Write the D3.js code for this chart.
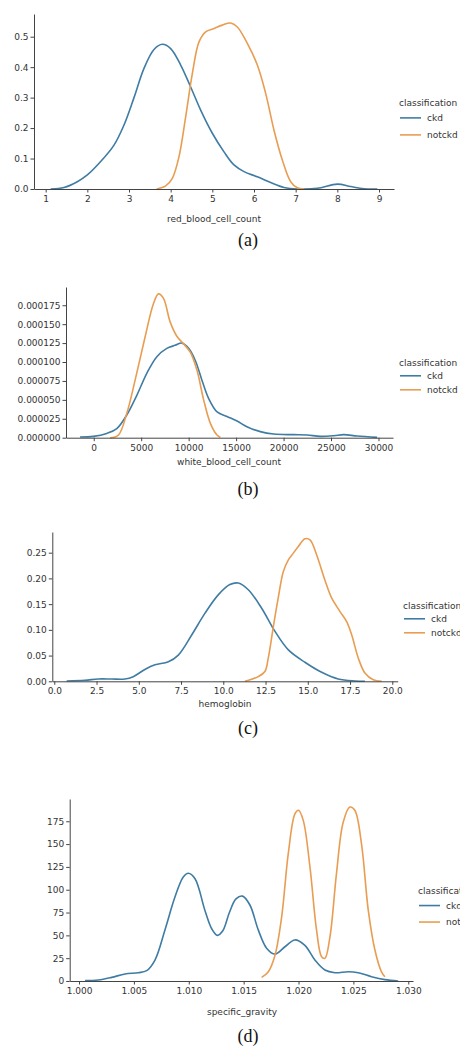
<!DOCTYPE html>
<html>
<head>
<meta charset="utf-8">
<script src="https://cdn.jsdelivr.net/npm/d3@7"></script>
<style>
  body { margin: 0; background: #fff; }
  svg { display: block; }
  .tick text { font-family: "DejaVu Sans", sans-serif; font-size: 9px; fill: #333; }
  .lbl { font-family: "DejaVu Sans", sans-serif; font-size: 9px; fill: #333; }
  .cap { font-family: "Liberation Serif", "Times New Roman", serif; font-size: 18px; fill: #111; }
</style>
</head>
<body>
<script>
// series: [x, density]
const classes = ['ckd', 'notckd'];
const colors = ['#3f7ca3', '#e89d52'];

const rbcCkd = [[1.12,0],[1.44,0.005],[1.76,0.024],[2.0,0.046],[2.32,0.09],[2.64,0.144],[2.88,0.21],[3.12,0.30],[3.36,0.396],[3.6,0.458],[3.8,0.475],[4.0,0.461],[4.24,0.407],[4.48,0.335],[4.72,0.259],[5.0,0.183],[5.28,0.122],[5.52,0.079],[5.76,0.057],[6.08,0.040],[6.4,0.021],[6.72,0.005],[7.04,0.0],[7.52,0.002],[8.0,0.016],[8.32,0.008],[8.64,0.001],[8.96,0]];
const rbcNot = [[3.66,0],[3.88,0.01],[4.04,0.035],[4.2,0.106],[4.36,0.237],[4.52,0.379],[4.68,0.483],[4.84,0.516],[5.04,0.527],[5.24,0.538],[5.44,0.545],[5.6,0.532],[5.84,0.478],[6.08,0.407],[6.28,0.314],[6.48,0.193],[6.68,0.095],[6.88,0.024],[7.04,0.004],[7.2,0]];

const wbcCkd = [[-1440,0.9e-6],[-35,1.8e-6],[1370,5.7e-6],[2430,12e-6],[3480,30e-6],[4540,56e-6],[5590,85e-6],[6650,107e-6],[7700,118e-6],[8580,122e-6],[9290,125e-6],[10000,118e-6],[10700,102e-6],[11400,76e-6],[12100,52e-6],[13000,34e-6],[14040,28e-6],[15100,22e-6],[16140,14.5e-6],[17550,8e-6],[18960,4.8e-6],[21070,4e-6],[22480,3.5e-6],[23880,1.8e-6],[25290,2.6e-6],[26340,4e-6],[27750,2.2e-6],[29860,0.4e-6]];
const wbcNot = [[1720,0],[2600,3.5e-6],[3480,32e-6],[4360,76e-6],[5410,133e-6],[6290,177e-6],[6820,190e-6],[7350,184e-6],[8050,153e-6],[8760,134e-6],[9460,124e-6],[10170,113e-6],[10880,89e-6],[11580,50e-6],[12290,19e-6],[12990,3.5e-6],[13340,0.4e-6]];

const hemoCkd = [[0.73,0.0006],[1.81,0.002],[2.6,0.0045],[3.39,0.0045],[4.18,0.0045],[4.67,0.009],[5.36,0.023],[5.96,0.032],[6.75,0.038],[7.34,0.051],[8.13,0.09],[8.91,0.132],[9.7,0.168],[10.39,0.188],[10.89,0.191],[11.48,0.178],[12.27,0.142],[13.06,0.097],[13.85,0.061],[14.83,0.037],[15.82,0.0175],[16.8,0.0045],[17.79,0.0006],[18.38,0]];
const hemoNot = [[11.28,0],[12.07,0.009],[12.46,0.019],[12.66,0.045],[12.96,0.106],[13.25,0.162],[13.55,0.213],[13.85,0.236],[14.05,0.245],[14.44,0.262],[14.83,0.277],[15.13,0.275],[15.52,0.246],[16.01,0.197],[16.41,0.162],[16.9,0.136],[17.3,0.116],[17.6,0.09],[17.99,0.045],[18.38,0.016],[18.87,0.003],[19.37,0]];

const sgCkd = [[1.00055,0.4],[1.00176,1.1],[1.00298,4],[1.00419,7.7],[1.0054,9.1],[1.00616,11.3],[1.00692,23],[1.00783,56],[1.00874,92],[1.0095,114],[1.00996,118],[1.01057,112],[1.01148,77],[1.0121,57],[1.0126,50],[1.0131,55],[1.0137,75],[1.0143,90],[1.0149,93],[1.01558,83],[1.01633,56],[1.01709,36],[1.01785,29.5],[1.01876,37.5],[1.01967,45],[1.02058,39],[1.02149,23],[1.0224,12],[1.02331,9.1],[1.02453,10.2],[1.02544,9.1],[1.02665,4.7],[1.02787,1.5],[1.02908,0]];
const sgNot = [[1.01664,4],[1.01725,10.2],[1.01785,28],[1.01846,70],[1.01907,140],[1.01967,183],[1.02,187],[1.02043,176],[1.02104,125],[1.02164,56],[1.0221,26.6],[1.0224,24.8],[1.02286,48],[1.02346,118],[1.02407,174],[1.02468,190.6],[1.02513,187],[1.02574,150],[1.02635,78],[1.02696,34],[1.02756,10],[1.02787,4.7]];

// tick values
const rbcXTicks = [1, 2, 3, 4, 5, 6, 7, 8, 9];
const rbcYTicks = [0, 0.1, 0.2, 0.3, 0.4, 0.5];
const wbcXTicks = [0, 5000, 10000, 15000, 20000, 25000, 30000];
const wbcYTicks = [0, 0.000025, 0.00005, 0.000075, 0.0001, 0.000125, 0.00015, 0.000175];
const hemoXTicks = [0, 2.5, 5, 7.5, 10, 12.5, 15, 17.5, 20];
const hemoYTicks = [0, 0.05, 0.1, 0.15, 0.2, 0.25];
const sgXTicks = [1.000, 1.005, 1.010, 1.015, 1.020, 1.025, 1.030];
const sgYTicks = [0, 25, 50, 75, 100, 125, 150, 175];

const svg = d3.select('body').append('svg')
  .attr('width', 460)
  .attr('height', 1050);

const panels = [
  { series: [rbcCkd, rbcNot], xd: [0.72, 9.36], yd: [0, 0.5745], box: [34, 394, 14, 189],
    xt: rbcXTicks, yt: rbcYTicks, xf: d3.format('d'), yf: d3.format('.1f'),
    label: 'red_blood_cell_count', lx: 214, ly: 222, cap: '(a)', cy: 246, leg: [399, 106, 17] },
  { series: [wbcCkd, wbcNot], xd: [-2921, 31529], yd: [0, 0.0001991], box: [66, 393, 287, 437.7],
    xt: wbcXTicks, yt: wbcYTicks, xf: d3.format('d'), yf: d3.format('.6f'),
    label: 'white_blood_cell_count', lx: 229, ly: 465, cap: '(b)', cy: 495, leg: [399, 366, 14] },
  { series: [hemoCkd, hemoNot], xd: [-0.118, 20.32], yd: [0, 0.2902], box: [52.3, 397.7, 532, 681.3],
    xt: hemoXTicks, yt: hemoYTicks, xf: d3.format('.1f'), yf: d3.format('.2f'),
    label: 'hemoglobin', lx: 225, ly: 707, cap: '(c)', cy: 734, leg: [403, 609, 14] },
  { series: [sgCkd, sgNot], xd: [0.99915, 1.03043], yd: [0, 199.4], box: [69.7, 413, 799, 981],
    xt: sgXTicks, yt: sgYTicks, xf: d3.format('.3f'), yf: d3.format('d'),
    label: 'specific_gravity', lx: 242, ly: 1015, cap: '(d)', cy: 1042, leg: [418, 894, 16.5] }
];

panels.forEach(p => {
  const [x0, x1, y0, y1] = p.box;
  const x = d3.scaleLinear().domain(p.xd).range([x0, x1]);
  const y = d3.scaleLinear().domain(p.yd).range([y1, y0]);
  const g = svg.append('g');

  const line = d3.line()
    .x(d => x(d[0]))
    .y(d => Math.min(y1, y(d[1])))
    .curve(d3.curveCatmullRom.alpha(0.5));

  g.selectAll('path.kde')
    .data(p.series)
    .enter()
    .append('path')
      .attr('class', 'kde')
      .attr('d', line)
      .attr('fill', 'none')
      .attr('stroke', (_, i) => colors[i])
      .attr('stroke-width', 1.6)
      .attr('stroke-linejoin', 'round');

  const xAxis = g.append('g')
    .attr('transform', `translate(0,${y1})`)
    .call(d3.axisBottom(x).tickValues(p.xt).tickFormat(p.xf).tickSizeInner(3.5).tickSizeOuter(0).tickPadding(3));
  const yAxis = g.append('g')
    .attr('transform', `translate(${x0},0)`)
    .call(d3.axisLeft(y).tickValues(p.yt).tickFormat(p.yf).tickSizeInner(3.5).tickSizeOuter(0).tickPadding(2));
  [xAxis, yAxis].forEach(a => {
    a.selectAll('path, line').attr('stroke', '#444').attr('stroke-width', 1);
    a.selectAll('text').attr('fill', '#333');
  });

  g.append('text').attr('class', 'lbl')
    .attr('x', p.lx).attr('y', p.ly)
    .attr('text-anchor', 'middle')
    .text(p.label);

  g.append('text').attr('class', 'cap')
    .attr('x', 248).attr('y', p.cy)
    .attr('text-anchor', 'middle')
    .text(p.cap);

  // legend (the reference crops it at the right edge too)
  const [lx, ly, step] = p.leg;
  g.append('text').attr('class', 'lbl')
    .attr('x', lx).attr('y', ly)
    .text('classification');
  classes.forEach((c, i) => {
    const yy = ly + step * (i + 0.7);
    g.append('line')
      .attr('x1', lx + 1).attr('x2', lx + 22)
      .attr('y1', yy).attr('y2', yy)
      .attr('stroke', colors[i]).attr('stroke-width', 1.6);
    g.append('text').attr('class', 'lbl')
      .attr('x', lx + 28).attr('y', yy + 3)
      .text(c);
  });
});
</script>
</body>
</html>
